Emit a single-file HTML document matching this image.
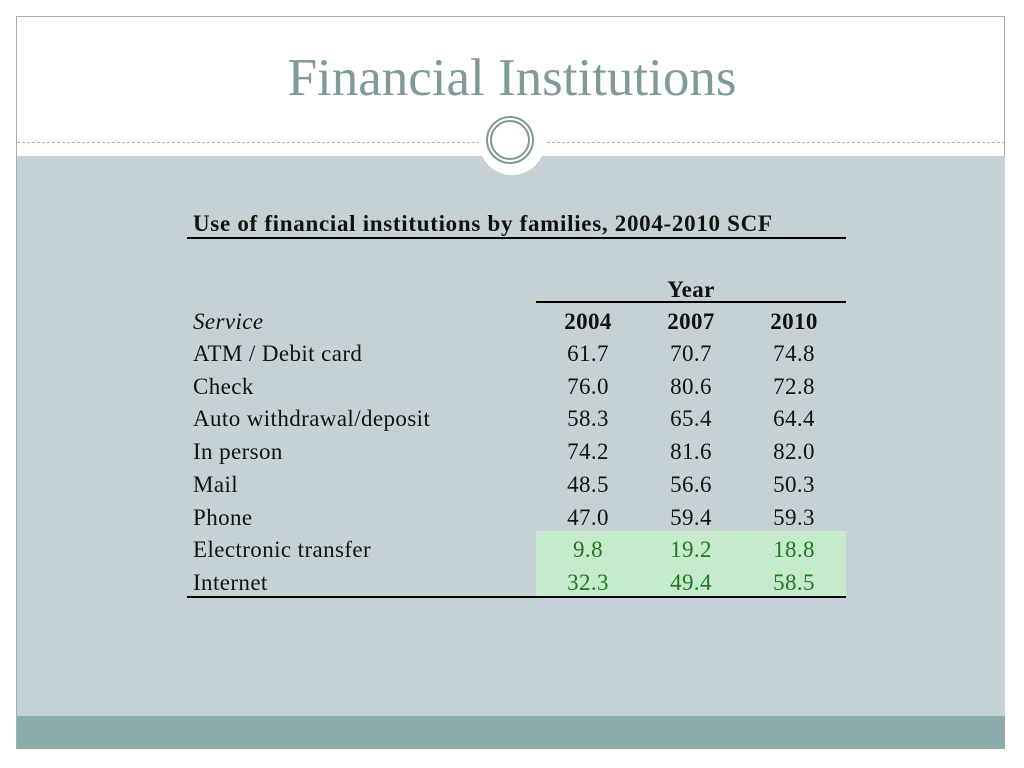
<!DOCTYPE html>
<html><head><meta charset="utf-8"><style>
body{margin:0;width:1024px;height:768px;background:#fff;position:relative;overflow:hidden;font-family:"Liberation Serif",serif}
.a{position:absolute}
.t{position:absolute;font-size:23px;letter-spacing:0.4px;color:#111;line-height:1;white-space:nowrap}
.c{transform:translateX(-50%)}
.g{color:#1e7a1e}
</style></head><body>
<div class="a" style="left:16px;top:16px;width:989px;height:733px;border:1px solid #9fb3b3;box-sizing:border-box"></div>
<div class="a" style="left:17px;top:156px;width:988px;height:560px;background:#c6d1d5"></div>
<div class="a" style="left:17px;top:716px;width:988px;height:33px;background:#8cabab"></div>
<div class="a" style="left:17px;top:142px;width:988px;border-top:1px dashed #a8b4b4"></div>
<div class="a" style="left:479px;top:109px;width:66px;height:66px;border-radius:50%;background:#fff"></div>
<div class="a" style="left:486px;top:116px;width:48px;height:48px;border-radius:50%;border:2px solid #7f9896;box-sizing:border-box"></div>
<div class="a" style="left:490px;top:120px;width:40px;height:40px;border-radius:50%;border:2px solid #7f9896;box-sizing:border-box"></div>
<div class="t" style="left:512px;top:52px;font-size:53px;letter-spacing:0;color:#7f9a98"><span class="c" style="position:absolute;left:0">Financial Institutions</span></div>
<div class="t" style="left:193px;top:212px;font-weight:bold;letter-spacing:0.7px">Use of financial institutions by families, 2004-2010 SCF</div>
<div class="a" style="left:187px;top:237px;width:659px;height:2px;background:#000"></div>
<div class="t c" style="left:691px;top:278px;font-weight:bold">Year</div>
<div class="a" style="left:536px;top:301px;width:310px;height:2px;background:#000"></div>
<div class="a" style="left:536px;top:531px;width:310px;height:66px;background:#c6ebcc"></div>
<div class="a" style="left:187px;top:596px;width:659px;height:2px;background:#000"></div>
<div id="tbl"></div>
<script>
const years=["2004","2007","2010"];
const services=["ATM / Debit card","Check","Auto withdrawal/deposit","In person","Mail","Phone","Electronic transfer","Internet"];
const v2004=["61.7","76.0","58.3","74.2","48.5","47.0","9.8","32.3"];
const v2007=["70.7","80.6","65.4","81.6","56.6","59.4","19.2","49.4"];
const v2010=["74.8","72.8","64.4","82.0","50.3","59.3","18.8","58.5"];
const tbl=document.getElementById('tbl');
const colX=[588,691,794];
function add(txt,x,y,cls,name,extra){
  const d=document.createElement('div');
  d.className='t '+cls;d.textContent=txt;
  d.style.left=x+'px';d.style.top=y+'px';
  if(extra)d.style.cssText+=extra;
  
  
  tbl.appendChild(d);
}
add("Service",193,310,'', 'service-header','font-style:italic;');
years.forEach((y,i)=>add(y,colX[i],310,'c','year-col-header','font-weight:bold;'));
const cols=[v2004,v2007,v2010];
services.forEach((s,r)=>{
  const y=342+r*32.7;
  add(s,193,y,'','service-label');
  cols.forEach((col,i)=>add(col[r],colX[i],y,'c'+(r>=6?' g':''),'cell-value'));
});
</script>
</body></html>
